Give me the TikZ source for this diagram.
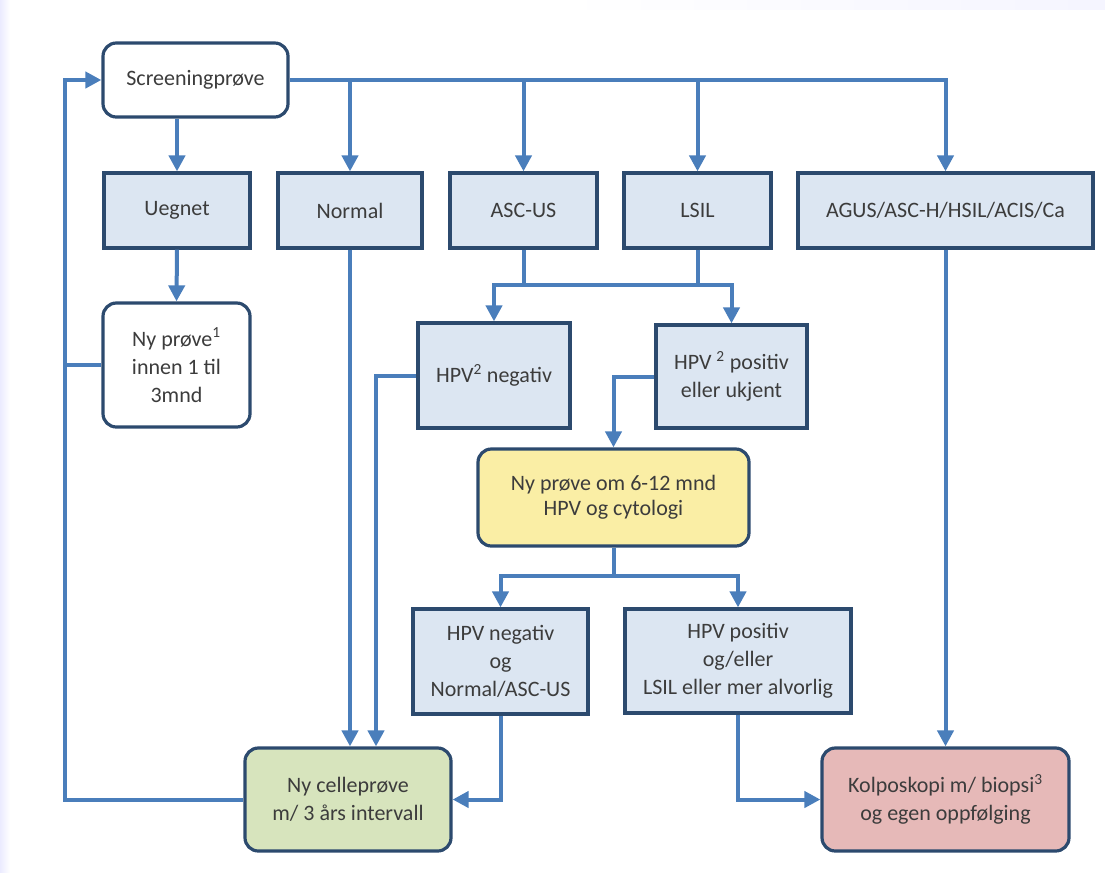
\documentclass[tikz,border=0pt]{standalone}
\usepackage{fontspec}
\setmainfont{Carlito}
\usetikzlibrary{arrows.meta,calc}
\definecolor{linjeblaa}{RGB}{74,126,187}
\definecolor{kant}{RGB}{44,74,110}
\definecolor{lysblaa}{RGB}{220,230,242}
\definecolor{gul}{RGB}{250,238,165}
\definecolor{gronn}{RGB}{215,228,189}
\definecolor{rosa}{RGB}{230,185,184}
\definecolor{tekst}{RGB}{60,60,60}
\begin{document}
\begin{tikzpicture}[x=0.75pt,y=-0.75pt,
    >={Triangle[length=12pt,width=12pt]},
    boks/.style={draw=kant,line width=2.4pt,fill=lysblaa,text=tekst,align=center,
        font=\fontsize{16.5}{21}\selectfont,inner sep=0pt,minimum height=56.25pt},
    rund/.style={boks,rounded corners=10pt,fill=white},
    pil/.style={->,draw=linjeblaa,line width=3pt},
    linje/.style={draw=linjeblaa,line width=3pt}]
    \useasboundingbox (0,0) rectangle (1105,872);
    \shade[left color=blue!8,right color=white] (0,0) rectangle (10,872);
    \shade[left color=white,right color=blue!4] (560,0) rectangle (1105,9);

    % screening og forste rad
    \node[rund,minimum width=138.75pt,minimum height=55.5pt] (screen) at (195.5,80) {Screeningprøve};
    \node[boks,minimum width=109.5pt] (uegnet) at (177,210.5) {Uegnet};
    \node[boks,minimum width=108pt] (normal) at (350,210.5) {Normal};
    \node[boks,minimum width=110.25pt] (ascus) at (523.5,210.5) {ASC-US};
    \node[boks,minimum width=110.25pt] (lsil) at (697.5,210.5) {LSIL};
    \node[boks,minimum width=221.25pt] (agus) at (945.5,210.5) {AGUS/ASC-H/HSIL/ACIS/Ca};

    % andre rad
    \node[rund,minimum width=110.25pt,minimum height=93pt] (nyprove) at (176.5,365)
        {Ny prøve\textsuperscript{1}\\innen 1 til\\3mnd};
    \node[boks,minimum width=114pt,minimum height=78.75pt] (hpvneg) at (494,375.5)
        {HPV\textsuperscript{2} negativ};
    \node[boks,minimum width=113.25pt,minimum height=77.25pt] (hpvpos) at (731.5,376.5)
        {HPV \textsuperscript{2} positiv\\eller ukjent};
    \node[rund,fill=gul,minimum width=203.25pt,minimum height=72.75pt,
        font=\fontsize{16.5}{19}\selectfont] (oppf) at (613.5,497.5)
        {Ny prøve om 6-12 mnd\\HPV og cytologi};
    \node[boks,minimum width=131.25pt,minimum height=78.75pt] (negog) at (500.5,661.5)
        {HPV negativ\\og\\Normal/ASC-US};
    \node[boks,minimum width=169.5pt,minimum height=78pt] (posog) at (738,661)
        {HPV positiv\\og/eller\\LSIL eller mer alvorlig};

    % utfall
    \node[rund,fill=gronn,minimum width=154.5pt,minimum height=77.25pt] (celle) at (348,799.5)
        {Ny celleprøve\\m/ 3 års intervall};
    \node[rund,fill=rosa,minimum width=185.25pt,minimum height=77.25pt] (kolpo) at (945.5,799.5)
        {Kolposkopi m/ biopsi\textsuperscript{3}\\og egen oppfølging};

    \coordinate (retur) at (65,80);
    \coordinate (delA) at (523.5,285);
    \coordinate (delB) at (613.5,576);

    % piler
    \draw[pil] (screen.east) -| (agus.north);
    \foreach \n in {normal,ascus,lsil}
        \draw[pil] (screen.east -| \n.north) -- (\n.north);
    \draw[pil] (screen.south -| uegnet.north) -- (uegnet.north);
    \draw[pil] (uegnet.south) -- (nyprove.north);
    \draw[pil] (celle.west) -| (retur) -- (screen.west);
    \draw[linje] (nyprove.west) -- (nyprove.west -| retur);
    \draw[pil] (normal.south) -- (normal.south |- celle.north);
    \draw[linje] (ascus.south) -- (delA);
    \draw[linje] (lsil.south) -- (lsil.south |- delA);
    \draw[pil] (delA) -| (hpvneg.north);
    \draw[pil] (delA) -| (hpvpos.north);
    \draw[pil] (hpvneg.west) -| ($(celle.north)+(28,0)$);
    \draw[pil] (hpvpos.west) -| (oppf.north);
    \draw[linje] (oppf.south) -- (delB);
    \draw[pil] (delB) -| (negog.north);
    \draw[pil] (delB) -| (posog.north);
    \draw[pil] (negog.south) |- (celle.east);
    \draw[pil] (posog.south) |- (kolpo.west);
    \draw[pil] (agus.south) -- (kolpo.north);
\end{tikzpicture}
\end{document}
